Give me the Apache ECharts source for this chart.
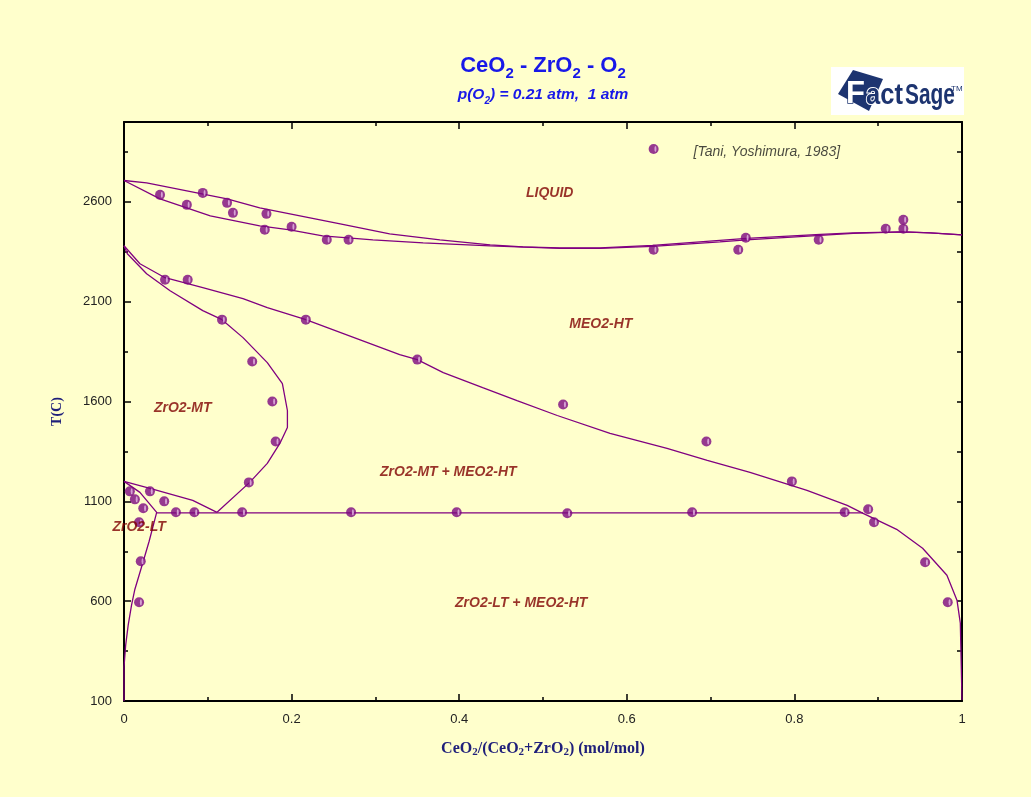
<!DOCTYPE html>
<html><head><meta charset="utf-8">
<script src="https://cdn.jsdelivr.net/npm/echarts@6/dist/echarts.min.js"></script>
<style>html,body{margin:0;padding:0;background:#ffffcc}#c{width:1031px;height:797px}</style>
</head><body><div id="c"></div>
<script>
// ---- Calculated phase boundaries: [x = CeO2/(CeO2+ZrO2), T (C)] ----
const liquidusUpper = [[0,2707],[0.027,2695],[0.075,2655],[0.123,2615],[0.162,2570],[0.198,2540],[0.258,2490],[0.317,2440],[0.377,2410],[0.437,2385],[0.476,2375],[0.520,2370],[0.568,2370],[0.631,2382],[0.711,2407],[0.743,2417],[0.831,2437],[0.870,2445],[0.930,2450],[0.962,2445],[1.0,2435]];
const liquidusLower = [[0,2707],[0.043,2615],[0.103,2530],[0.162,2480],[0.198,2460],[0.237,2430],[0.297,2410],[0.357,2395],[0.437,2380],[0.520,2367],[0.568,2367],[0.631,2377],[0.711,2400],[0.743,2410],[0.831,2432],[0.870,2442],[0.930,2450],[0.962,2445],[1.0,2435]];
const htBoundary = [[0,2380],[0.019,2290],[0.049,2220],[0.094,2170],[0.142,2115],[0.171,2070],[0.217,2010],[0.329,1835],[0.350,1810],[0.381,1745],[0.428,1670],[0.469,1605],[0.517,1530],[0.580,1440],[0.648,1365],[0.696,1305],[0.747,1245],[0.815,1155],[0.863,1080],[0.882,1040],[0.922,960],[0.953,865],[0.982,730],[0.994,605],[0.998,490],[1.0,105]];
const mtHtBoundary = [[0,2380],[0.004,2340],[0.027,2240],[0.055,2155],[0.094,2055],[0.117,2010],[0.142,1920],[0.171,1795],[0.189,1690],[0.195,1555],[0.195,1470],[0.186,1390],[0.171,1290],[0.150,1195],[0.111,1045]];
const mtLtBoundary = [[0,1200],[0.031,1165],[0.082,1105],[0.111,1045]];
const ltBoundary = [[0,1200],[0.019,1145],[0.029,1095],[0.039,1045],[0.030,900],[0.023,800],[0.018,730],[0.013,660],[0.009,580],[0.005,480],[0.002,380],[0,270],[0,100]];
const eutectoid = [[0.039,1042],[0.882,1042]];

// ---- Experimental points [Tani, Yoshimura, 1983] ----
const expLiquid = [[0.043,2635],[0.075,2585],[0.094,2645],[0.123,2595],[0.130,2545],[0.170,2540],[0.168,2460],[0.200,2475],[0.242,2410],[0.268,2410],[0.632,2360],[0.733,2360],[0.742,2420],[0.829,2410],[0.909,2465],[0.930,2510],[0.930,2465]];
const expHT = [[0.049,2210],[0.076,2210],[0.117,2010],[0.217,2010],[0.350,1810],[0.153,1800],[0.177,1600],[0.181,1400],[0.149,1195],[0.524,1585],[0.695,1400],[0.797,1200],[0.888,1060],[0.895,995],[0.956,795],[0.983,595]];
const expEutectoid = [[0.141,1045],[0.271,1045],[0.397,1045],[0.529,1040],[0.678,1045],[0.860,1045]];
const expLeft = [[0.007,1150],[0.013,1110],[0.031,1150],[0.023,1065],[0.048,1100],[0.062,1045],[0.084,1045],[0.018,995],[0.020,800],[0.018,595]];
const legendPoint = [[0.632,2865]];

// ---- Region labels ----
const regionLabels = [[0.508,2645,'LIQUID'],[0.569,1990,'MEO2-HT'],[0.070,1565,'ZrO2-MT'],[0.387,1245,'ZrO2-MT + MEO2-HT'],[0.018,970,'ZrO2-LT'],[0.474,590,'ZrO2-LT + MEO2-HT']];
const citation = [[0.679,2850,'[Tani, Yoshimura, 1983]']];

const xTicks = {min:0, max:1, interval:0.2};
const yTicks = {min:100, max:3000, interval:500, last:2600};

const allPoints = expLiquid.concat(expHT, expEutectoid, expLeft, legendPoint);

const LINE = '#800080', MARK = '#7c087f', FONT = 'Liberation Sans';
const chart = echarts.init(document.getElementById('c'), null, {renderer:'canvas'});

function lineSeries(d){
  return {type:'line', data:d, showSymbol:false, silent:true, z:2,
    lineStyle:{color:LINE, width:1.3}, animation:false};
}
const tickStyle = {color:'#000', width:1.5};
const navy = '#1f1f7a', blue = '#1818e8', logo = '#1d3470';

chart.setOption({
  animation:false,
  backgroundColor:'#ffffcc',
  title:[
    {text:'{a|CeO}{s|2}{a| - ZrO}{s|2}{a| - O}{s|2}', left:538, textAlign:'center', top:50,
     textStyle:{rich:{
       a:{fontSize:22, fontWeight:'bold', color:blue, fontFamily:FONT, lineHeight:25, verticalAlign:'top'},
       s:{fontSize:15, fontWeight:'bold', color:blue, fontFamily:FONT, lineHeight:17, verticalAlign:'top', padding:[11,0,0,0]}}}},
    {text:'{a|p(O}{s|2}{a|) = 0.21 atm,  1 atm}', left:538, textAlign:'center', top:82,
     textStyle:{rich:{
       a:{fontSize:15.5, fontWeight:'bold', fontStyle:'italic', color:blue, fontFamily:FONT, lineHeight:18, verticalAlign:'top'},
       s:{fontSize:10, fontWeight:'bold', fontStyle:'italic', color:blue, fontFamily:FONT, lineHeight:12, verticalAlign:'top', padding:[9,0,0,0]}}}}
  ],
  grid:{left:124, right:69, top:122, bottom:96, containLabel:false},
  xAxis:[
    {type:'value', min:xTicks.min, max:xTicks.max, interval:xTicks.interval, position:'bottom',
     axisLine:{show:true, onZero:false, lineStyle:{color:'#000', width:2}},
     axisTick:{show:true, inside:true, length:7, lineStyle:tickStyle},
     minorTick:{show:true, splitNumber:2, length:4, lineStyle:tickStyle},
     splitLine:{show:false},
     axisLabel:{color:'#222', fontSize:13, margin:12, fontFamily:FONT},
     name:'CeO{s|2}/(CeO{s|2}+ZrO{s|2}) (mol/mol)', nameLocation:'middle', nameGap:38,
     nameTextStyle:{color:navy, fontSize:16, fontWeight:'bold', fontFamily:'Liberation Serif',
       rich:{s:{fontSize:11, fontWeight:'bold', fontFamily:'Liberation Serif', color:navy, padding:[8,0,0,0]}}}},
    {type:'value', min:xTicks.min, max:xTicks.max, interval:xTicks.interval, position:'top',
     axisLine:{show:true, onZero:false, lineStyle:{color:'#000', width:2}},
     axisTick:{show:true, inside:true, length:7, lineStyle:tickStyle},
     minorTick:{show:true, splitNumber:2, length:4, lineStyle:tickStyle},
     splitLine:{show:false}, axisLabel:{show:false}}
  ],
  yAxis:[
    {type:'value', min:yTicks.min, max:yTicks.max, interval:yTicks.interval, position:'left',
     axisLine:{show:true, onZero:false, lineStyle:{color:'#000', width:2}},
     axisTick:{show:true, inside:true, length:7, lineStyle:tickStyle},
     minorTick:{show:true, splitNumber:2, length:4, lineStyle:tickStyle},
     splitLine:{show:false},
     axisLabel:{color:'#222', fontSize:13, margin:12, fontFamily:FONT,
       formatter:v => v > yTicks.last ? '' : String(v)},
     name:'T(C)', nameLocation:'middle', nameGap:60, nameRotate:90,
     nameTextStyle:{color:navy, fontSize:14, fontWeight:'bold', fontFamily:'Liberation Serif'}},
    {type:'value', min:yTicks.min, max:yTicks.max, interval:yTicks.interval/2, position:'right',
     axisLine:{show:true, onZero:false, lineStyle:{color:'#000', width:2}},
     axisTick:{show:true, inside:true, length:5, lineStyle:tickStyle},
     splitLine:{show:false}, axisLabel:{show:false}}
  ],
  series:[
    lineSeries(liquidusUpper), lineSeries(liquidusLower), lineSeries(htBoundary),
    lineSeries(mtHtBoundary), lineSeries(mtLtBoundary), lineSeries(ltBoundary), lineSeries(eutectoid),
    {type:'scatter', data:allPoints, symbol:'circle', symbolSize:10, z:5, silent:true,
     itemStyle:{color:MARK}},
    {type:'scatter', data:allPoints, symbol:'circle', symbolSize:[2,6], symbolOffset:[1.8,0], z:6, silent:true,
     itemStyle:{color:'#e6bce6'}},
    {type:'scatter', data:regionLabels, symbolSize:1, z:7, silent:true, itemStyle:{color:'rgba(0,0,0,0)'},
     label:{show:true, position:'inside', formatter:p => p.data[2], color:'#800000', fontSize:14,
       fontWeight:'bold', fontStyle:'italic', fontFamily:FONT}},
    {type:'scatter', data:citation, symbolSize:1, z:7, silent:true, itemStyle:{color:'rgba(0,0,0,0)'},
     label:{show:true, position:'right', distance:0, formatter:p => p.data[2], color:'#1a1a1a', fontSize:14,
       fontStyle:'italic', fontFamily:FONT}}
  ],
  graphic:[
    {type:'rect', shape:{x:831, y:67, width:133, height:48}, style:{fill:'#ffffff'}, z:10},
    {type:'polygon', shape:{points:[[838,94],[853,70],[883,79],[869,111]]}, style:{fill:logo}, z:11},
    {type:'text', x:866, y:81, scaleX:0.88, z:12, style:{text:'act', font:'bold 29px Liberation Sans', fill:logo, stroke:'#ffffff', lineWidth:2}},
    {type:'text', x:846, y:79, z:13, style:{text:'F', font:'bold 31px Liberation Sans', fill:'#ffffff', stroke:logo, lineWidth:1.5}},
    {type:'text', x:905, y:81, scaleX:0.72, z:12, style:{text:'Sage', font:'bold 29px Liberation Sans', fill:logo}},
    {type:'text', x:951, y:85, z:12, style:{text:'TM', font:'8px Liberation Sans', fill:logo}}
  ]
});
</script>
</body></html>
